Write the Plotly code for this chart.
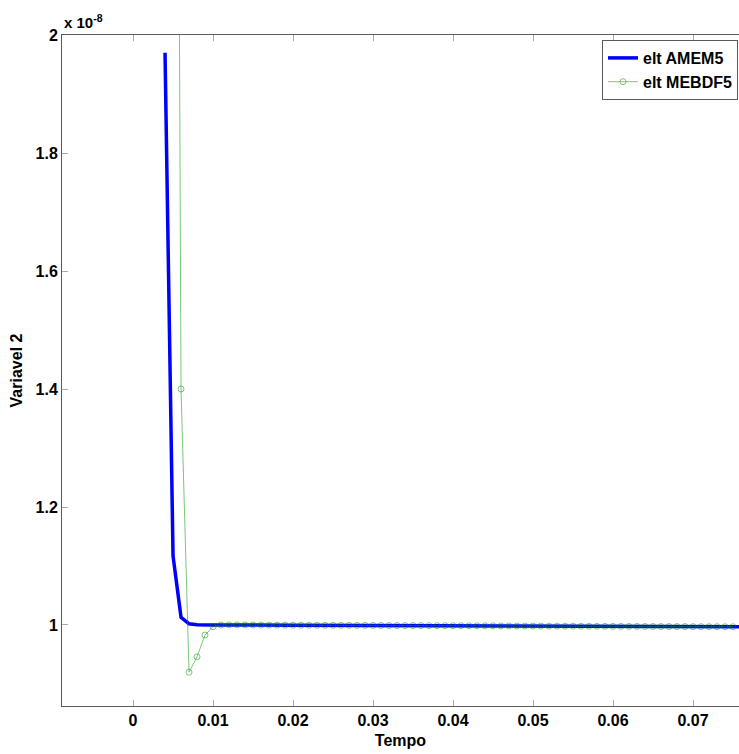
import plotly.graph_objects as go

# Time grid (s)
t_amem5 = [0.004, 0.005, 0.006, 0.007, 0.008, 0.009, 0.010, 0.020, 0.030,
           0.040, 0.050, 0.060, 0.070, 0.076]
# Variavel 2 (x 1e-8)
v_amem5 = [1.97, 1.117, 1.013, 1.002, 1.0003, 1.0001, 1.0, 0.9996, 0.9992,
           0.9987, 0.9982, 0.9977, 0.9972, 0.9969]

t_mebdf5 = [0.005, 0.006, 0.007, 0.008, 0.009, 0.010, 0.011, 0.012, 0.013, 0.014,
            0.015, 0.016, 0.017, 0.018, 0.019, 0.020, 0.021, 0.022, 0.023, 0.024,
            0.025, 0.026, 0.027, 0.028, 0.029, 0.030, 0.031, 0.032, 0.033, 0.034,
            0.035, 0.036, 0.037, 0.038, 0.039, 0.040, 0.041, 0.042, 0.043, 0.044,
            0.045, 0.046, 0.047, 0.048, 0.049, 0.050, 0.051, 0.052, 0.053, 0.054,
            0.055, 0.056, 0.057, 0.058, 0.059, 0.060, 0.061, 0.062, 0.063, 0.064,
            0.065, 0.066, 0.067, 0.068, 0.069, 0.070, 0.071, 0.072, 0.073, 0.074,
            0.075]
v_mebdf5 = [4.5, 1.40, 0.92, 0.946, 0.983, 0.997, 1.0, 1.0002, 1.0002, 1.0001,
            1.0000, 0.9999, 0.9999, 0.9998, 0.9998, 0.9997, 0.9997, 0.9996, 0.9996, 0.9995,
            0.9995, 0.9994, 0.9994, 0.9993, 0.9993, 0.9992, 0.9992, 0.9991, 0.9991, 0.9990,
            0.9990, 0.9989, 0.9989, 0.9988, 0.9988, 0.9987, 0.9987, 0.9986, 0.9986, 0.9985,
            0.9985, 0.9984, 0.9984, 0.9983, 0.9983, 0.9982, 0.9982, 0.9981, 0.9981, 0.9980,
            0.9980, 0.9979, 0.9979, 0.9978, 0.9978, 0.9977, 0.9977, 0.9976, 0.9976, 0.9975,
            0.9975, 0.9974, 0.9974, 0.9973, 0.9973, 0.9972, 0.9972, 0.9971, 0.9971, 0.9970,
            0.9970]

x_ticks = [0, 0.01, 0.02, 0.03, 0.04, 0.05, 0.06, 0.07]
x_ticklabels = ["0", "0.01", "0.02", "0.03", "0.04", "0.05", "0.06", "0.07"]
y_ticks = [1.0, 1.2, 1.4, 1.6, 1.8, 2.0]
y_ticklabels = ["1", "1.2", "1.4", "1.6", "1.8", "2"]

FONT = "Liberation Sans"

fig = go.Figure()
fig.add_trace(go.Scatter(
    x=t_amem5, y=v_amem5, mode="lines", name="elt AMEM5",
    line=dict(color="rgb(0,0,255)", width=3.5),
))
fig.add_trace(go.Scatter(
    x=t_mebdf5, y=v_mebdf5, mode="lines+markers", name="elt MEBDF5",
    line=dict(color="rgb(0,150,0)", width=0.7),
    marker=dict(symbol="circle-open", size=6, color="rgb(0,150,0)",
                line=dict(width=0.7, color="rgb(0,150,0)")),
    opacity=0.75,
))

axis_common = dict(
    showgrid=False, zeroline=False, showline=True, linecolor="rgb(90,90,90)",
    linewidth=1, ticks="inside", ticklen=6, tickcolor="rgb(170,170,170)",
    tickwidth=1,
    tickfont=dict(family=FONT, size=16, color="black", weight="bold"),
)

fig.update_layout(
    width=739, height=754,
    margin=dict(l=62, r=0, t=35, b=48),
    paper_bgcolor="white", plot_bgcolor="white",
    showlegend=True,
    legend=dict(
        x=(602 - 62) / 677, y=1 - 5 / 671, xanchor="left", yanchor="top",
        bgcolor="white", bordercolor="rgb(90,90,90)", borderwidth=1,
        font=dict(family=FONT, size=16, color="black", weight="bold"),
        tracegroupgap=0, itemwidth=30,
    ),
    xaxis=dict(
        range=[-0.00888, 0.07575], tickvals=x_ticks, ticktext=x_ticklabels,
        mirror="ticks",
        title=dict(text="Tempo", standoff=6,
                   font=dict(family=FONT, size=16, color="black", weight="bold")),
        **axis_common,
    ),
    yaxis=dict(
        range=[0.8627, 2.0], tickvals=y_ticks, ticktext=y_ticklabels,
        title=dict(text="Variavel 2", standoff=8,
                   font=dict(family=FONT, size=16, color="black", weight="bold")),
        **axis_common,
    ),
    annotations=[dict(
        x=0, y=1, xref="paper", yref="paper", xanchor="left", yanchor="bottom",
        yshift=2, showarrow=False, text="x 10<sup>-8</sup>",
        font=dict(family=FONT, size=15, color="black", weight="bold"),
    )],
)

fig.write_html("out.html")
